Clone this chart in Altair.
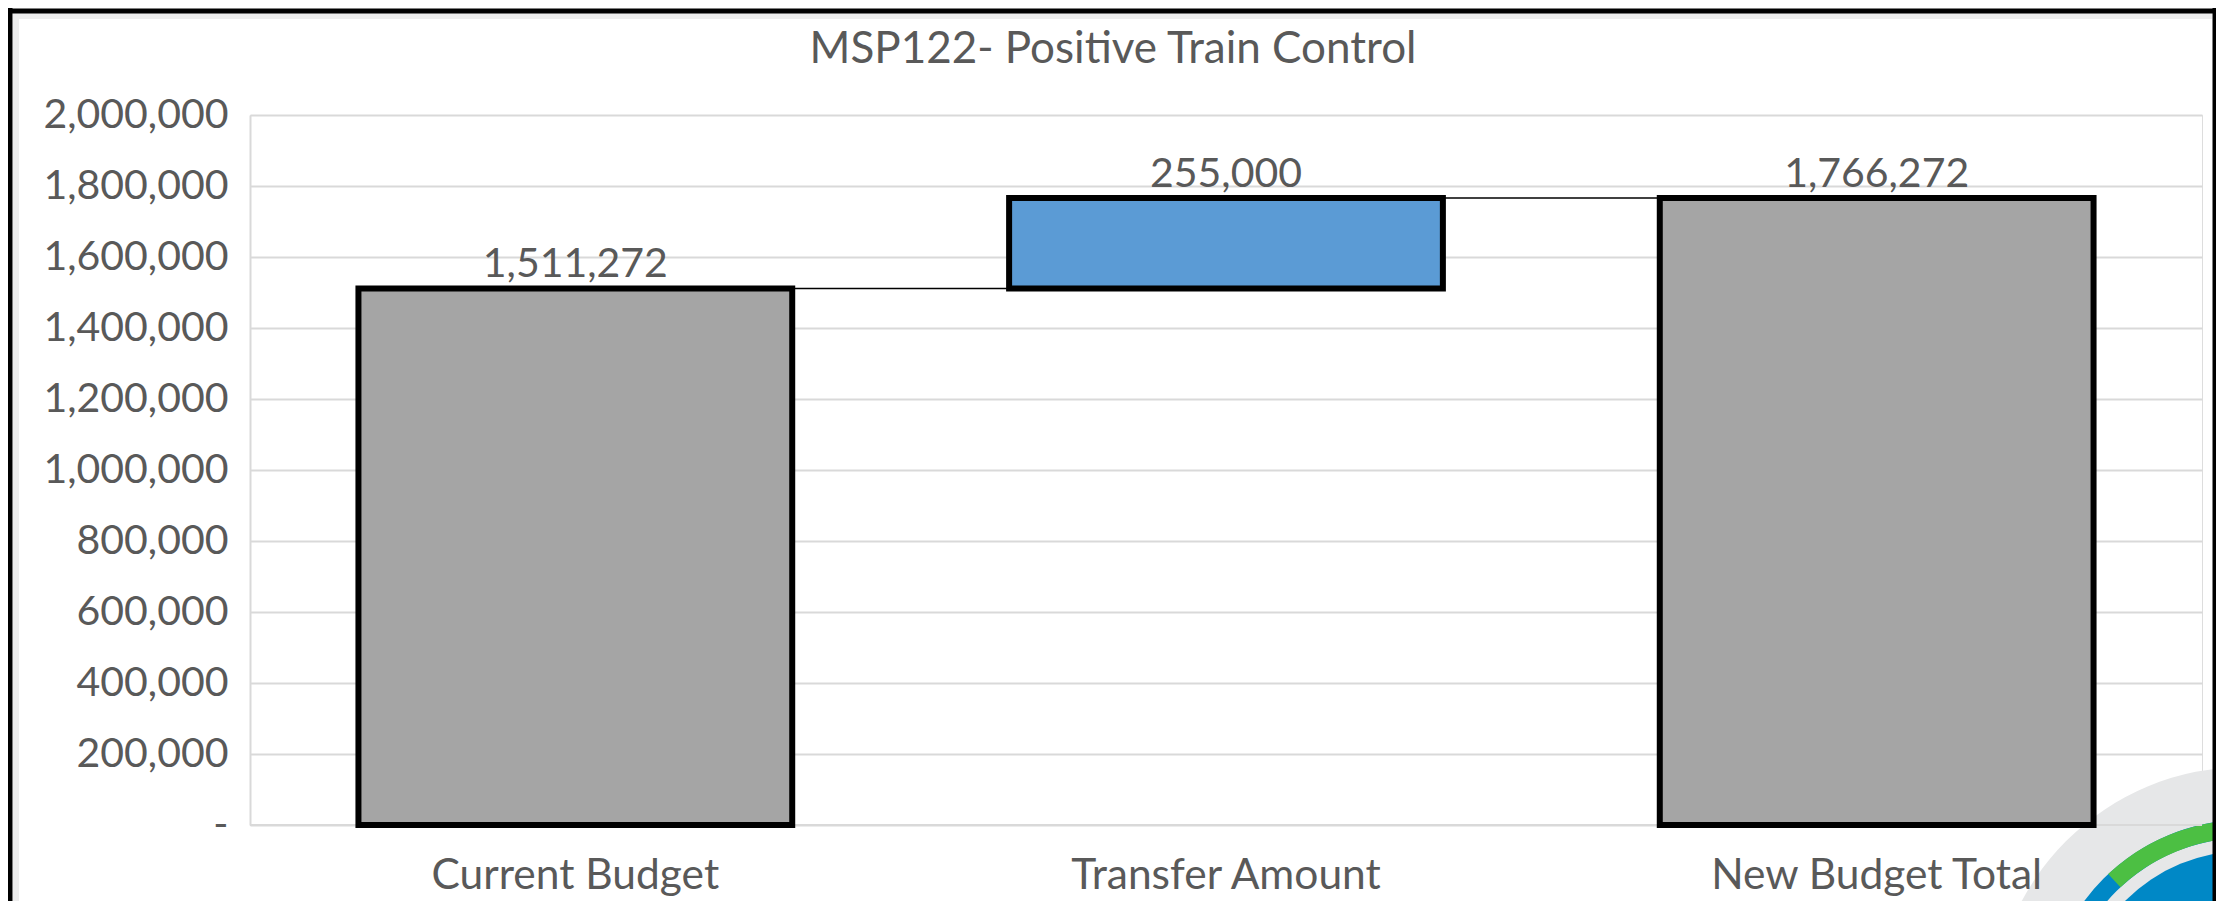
import altair as alt
import pandas as pd
import math

categories = ["Current Budget", "Transfer Amount", "New Budget Total"]
bar_start = [0, 1511272, 0]
bar_end = [1511272, 1766272, 1766272]
labels = ["1,511,272", "255,000", "1,766,272"]
kinds = ["total", "change", "total"]
title_text = ["MSP122-  Positive Train Control"]

df = pd.DataFrame({"cat": categories, "start": bar_start, "end": bar_end,
                   "label": labels, "kind": kinds})

# connectors between consecutive bars (level carried to the next bar)
conn = pd.DataFrame({
    "cat": categories[:-1],
    "next": categories[1:],
    "level": bar_end[:-1],
})
tdf = pd.DataFrame({"t": title_text, "zero": [0]})

FONT = "Lato"
TXT = "#595959"
W, H = 1952, 710

xscale = alt.Scale(domain=categories, paddingInner=1/3, paddingOuter=1/6)
yscale = alt.Scale(domain=[0, 2000000], nice=False)

x_axis = alt.Axis(labelAngle=0, labelAlign="center", labelFont=FONT, labelFontSize=42.5,
                  labelColor=TXT, labelLimit=0, ticks=False, domain=False,
                  labelPadding=29, grid=False, title=None, zindex=1)
y_axis = alt.Axis(values=list(range(0, 2000001, 200000)),
                  labelExpr="datum.value == 0 ? '-' : format(datum.value, ',')",
                  labelFont=FONT, labelFontSize=41, labelColor=TXT, labelPadding=22,
                  labelLimit=0, ticks=False, domain=True, domainColor="#D9D9D9",
                  domainWidth=2, gridColor="#D9D9D9", gridWidth=2, title=None)


def X(field):
    return alt.X(field, scale=xscale, sort=categories, axis=x_axis, title=None)


def Y(field):
    return alt.Y(field, scale=yscale, axis=y_axis, title=None)


# slide logo in the lower right corner (decoration)
CX, CY = 1995, 905


def logo_arc(color, r0, r1, t0, t1):
    return alt.Chart(tdf).mark_arc(color=color).encode(
        x=alt.value(CX), y=alt.value(CY),
        radius=alt.value(r1), radius2=alt.value(r0),
        theta=alt.value(t0), theta2=alt.value(t1))


logo_gray = logo_arc("#E6E7E8", 0, 253, 0, 2 * math.pi)
logo_ring = logo_arc("#0088C6", 182, 200, 0, 2 * math.pi)
logo_green = logo_arc("#4CBF43", 182, 200, 5.53, 2 * math.pi + 1.2)
logo_disc = logo_arc("#0088C6", 0, 169, 0, 2 * math.pi)

baseline = alt.Chart(tdf).mark_rule(color="#D9D9D9", strokeWidth=2).encode(
    y=Y("zero:Q"), x=alt.value(0), x2=alt.value(W))

connectors = alt.Chart(conn).mark_rule(color="black", strokeWidth=1.5).encode(
    x=X("cat:N"),
    x2="next:N",
    y=Y("level:Q"),
)

bars = alt.Chart(df).mark_bar(stroke="black", strokeWidth=6).encode(
    x=X("cat:N"),
    y=Y("start:Q"),
    y2="end:Q",
    color=alt.Color("kind:N", scale=alt.Scale(domain=["total", "change"],
                                               range=["#A5A5A5", "#5B9BD5"]), legend=None),
)

text = alt.Chart(df).mark_text(font=FONT, fontSize=41, color=TXT, baseline="alphabetic",
                               dy=-11).encode(
    x=X("cat:N"),
    y=Y("end:Q"),
    text="label:N",
)

title = alt.Chart(tdf).mark_text(font=FONT, fontSize=44, color=TXT, baseline="alphabetic",
                                 align="center").encode(
    x=alt.value(W / 2 - 113), y=alt.value(-52), text="t:N")

# slide frame (decoration)
shadow_left = alt.Chart(tdf).mark_rule(color="#EDEDED", strokeWidth=6).encode(
    x=alt.value(-234), y=alt.value(-101), y2=alt.value(H + 80))
shadow_top = alt.Chart(tdf).mark_rule(color="#EDEDED", strokeWidth=6).encode(
    x=alt.value(-237), x2=alt.value(W + 10), y=alt.value(-99))
frame_left = alt.Chart(tdf).mark_rule(color="black", strokeWidth=5).encode(
    x=alt.value(-240), y=alt.value(-107), y2=alt.value(H + 80))
frame_right = alt.Chart(tdf).mark_rule(color="black", strokeWidth=5).encode(
    x=alt.value(W + 13), y=alt.value(-107), y2=alt.value(H + 80))
frame_top = alt.Chart(tdf).mark_rule(color="black", strokeWidth=5).encode(
    x=alt.value(-242), x2=alt.value(W + 15), y=alt.value(-104))

chart = alt.layer(logo_gray, logo_ring, logo_green, logo_disc, baseline,
                  connectors, bars, text, title,
                  shadow_left, shadow_top, frame_left, frame_right, frame_top).properties(
    width=W, height=H,
    autosize=alt.AutoSizeParams(type="none"),
    padding={"left": 242, "top": 107, "right": 14, "bottom": 76},
).configure_view(stroke=None).configure(background="white")

chart.save("out.html", embed_options={"renderer": "svg", "actions": False})
